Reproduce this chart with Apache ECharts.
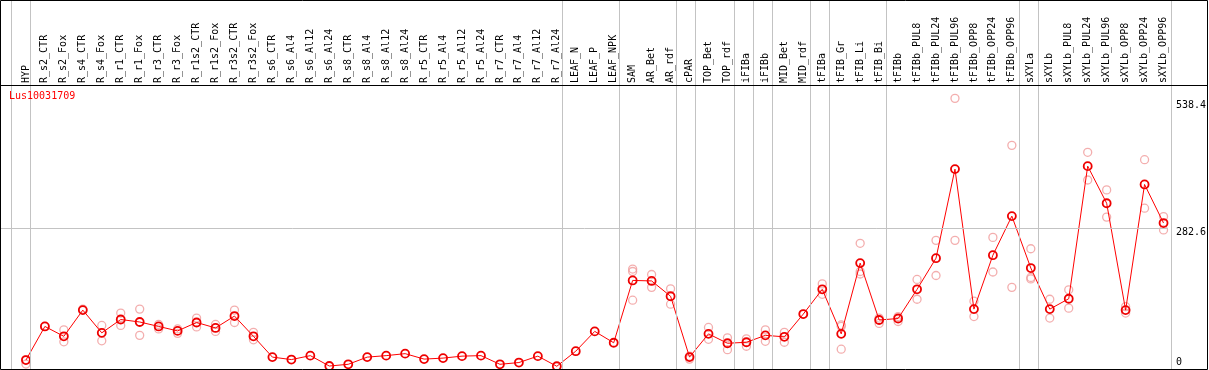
<!DOCTYPE html>
<html>
<head>
<meta charset="utf-8">
<script src="https://cdn.jsdelivr.net/npm/echarts@6/dist/echarts.min.js"></script>
<style>
  html, body { margin: 0; padding: 0; background: #fff; }
  #chart { width: 1209px; height: 370px; }
</style>
</head>
<body>
<div id="chart"></div>
<script>
const chartTitle = 'Lus10031709';
const categories = [
  'HYP','R_s2_CTR','R_s2_Fox','R_s4_CTR','R_s4_Fox','R_r1_CTR','R_r1_Fox','R_r3_CTR','R_r3_Fox',
  'R_r1s2_CTR','R_r1s2_Fox','R_r3s2_CTR','R_r3s2_Fox','R_s6_CTR','R_s6_Al4','R_s6_Al12','R_s6_Al24',
  'R_s8_CTR','R_s8_Al4','R_s8_Al12','R_s8_Al24','R_r5_CTR','R_r5_Al4','R_r5_Al12','R_r5_Al24',
  'R_r7_CTR','R_r7_Al4','R_r7_Al12','R_r7_Al24','LEAF_N','LEAF_P','LEAF_NPK','SAM','AR_Bet','AR_rdf',
  'cPAR','TOP_Bet','TOP_rdf','iFIBa','iFIBb','MID_Bet','MID_rdf','tFIBa','tFIB_Gr','tFIB_Li','tFIB_Bi',
  'tFIBb','tFIBb_PUL8','tFIBb_PUL24','tFIBb_PUL96','tFIBb_OPP8','tFIBb_OPP24','tFIBb_OPP96',
  'sXYLa','sXYLb','sXYLb_PUL8','sXYLb_PUL24','sXYLb_PUL96','sXYLb_OPP8','sXYLb_OPP24','sXYLb_OPP96'
];
const meanValues = [
  16,84,64,117,71,98,93,84,75,92,81,105,64,
  22,17,25,4,7.5,22,25,29,18,20,24,25,7.5,11,24,3.5,
  34,74,51,
  177,176,145,22,69,50,52,66,63,109,159,69,212,97,100,
  159,222,402,119,228,307,202,119,140,408,333,117,371,293
];
const rep1 = [
  17,84,77,119,86,111,119,88,79,101,88,117,72,
  null,null,null,null,null,null,null,null,null,null,null,null,null,null,null,null,
  null,null,null,
  200,189,160,24,82,61,59,77,72,109,170,87,252,101,104,
  179,258,545,135,264,450,241,139,158,436,360,124,421,306
];
const rep2 = [
  8,null,53,null,55,86,66,79,70,83,74,92,57,
  null,null,null,null,null,null,null,null,null,null,null,null,null,null,null,null,
  null,null,null,
  195,163,129,18,58,37,44,54,52,null,149,84,195,90,94,
  139,187,258,104,194,163,183,101,121,380,305,111,323,279
];
const rep3 = [
  null,null,null,null,null,null,null,null,null,null,null,null,null,
  null,null,null,null,null,null,null,null,null,null,null,null,null,null,null,null,
  null,null,null,
  137,null,null,null,null,null,null,null,null,null,null,38,190,null,null,
  null,null,null,null,null,null,180,null,null,null,null,null,null,null
];
// index of the last category of each group (separators drawn just after it)
const groupEnds = [-1,0,28,31,34,35,37,38,39,41,42,45,52,53,60];
const yTickValues = [0, 282.6, 538.4];
const yGridValues = [282.6];

const X_MIN = -1.315, X_MAX = 60.23, SEP_OFFSET = 0.23, Y_MAX = 572;
const MONO = 'DejaVu Sans Mono';

const meanData = meanValues.map((v, i) => [i, v]);
const repData = [];
[rep1, rep2, rep3].forEach(arr => arr.forEach((v, i) => { if (v != null) repData.push([i, v]); }));

const chart = echarts.init(document.getElementById('chart'), null, { renderer: 'canvas' });
chart.setOption({
  animation: false,
  backgroundColor: '#fff',
  title: {
    text: chartTitle, left: 9, top: 91, padding: 0,
    textStyle: { color: '#ff0000', fontFamily: MONO, fontSize: 10, fontWeight: 'normal' }
  },
  grid: [
    { left: 1, right: 38, top: 85, bottom: 2 },
    { left: 1, right: 38, top: 0, bottom: 1 }
  ],
  xAxis: [
    {
      type: 'value', gridIndex: 0, min: X_MIN, max: X_MAX, position: 'top',
      axisLine: { show: false }, axisTick: { show: false }, splitLine: { show: false },
      axisLabel: {
        customValues: categories.map((c, i) => i),
        formatter: v => categories[Math.round(v)] || '',
        rotate: 90, margin: 2, color: '#000', fontFamily: MONO, fontSize: 10,
        showMinLabel: true, showMaxLabel: true, hideOverlap: false
      }
    },
    { type: 'value', gridIndex: 1, min: X_MIN, max: X_MAX, show: false }
  ],
  yAxis: [
    {
      type: 'value', gridIndex: 0, min: 0, max: Y_MAX, position: 'right',
      axisLine: { show: false }, axisTick: { show: false }, splitLine: { show: false },
      axisLabel: {
        customValues: yTickValues, margin: 8, color: '#000', fontFamily: MONO, fontSize: 10,
        formatter: v => v === 0 ? '{b|0}' : '{t|' + v + '}',
        rich: {
          t: { fontFamily: MONO, fontSize: 10, color: '#000', padding: [8, 0, 0, 0] },
          b: { fontFamily: MONO, fontSize: 10, color: '#000', padding: [0, 0, 12, 0] }
        }
      }
    },
    { type: 'value', gridIndex: 1, min: 0, max: 1, show: false }
  ],
  series: [
    {
      name: 'separators', type: 'line', xAxisIndex: 1, yAxisIndex: 1, data: [[0, 0]],
      showSymbol: false, lineStyle: { opacity: 0 }, silent: true, z: 1,
      markLine: {
        silent: true, symbol: 'none', label: { show: false }, animation: false,
        lineStyle: { color: '#c3c3c3', width: 1, type: 'solid' },
        data: groupEnds.map(k => ({ xAxis: k + SEP_OFFSET }))
      }
    },
    {
      name: 'hgrid', type: 'line', xAxisIndex: 0, yAxisIndex: 0, data: [[0, 0]],
      showSymbol: false, lineStyle: { opacity: 0 }, silent: true, z: 1,
      markLine: {
        silent: true, symbol: 'none', label: { show: false }, animation: false,
        lineStyle: { color: '#c3c3c3', width: 1, type: 'solid' },
        data: yGridValues.map(v => ({ yAxis: v }))
      }
    },
    {
      name: 'replicates', type: 'scatter', xAxisIndex: 0, yAxisIndex: 0, data: repData,
      symbol: 'circle', symbolSize: 8, clip: false, z: 2,
      itemStyle: { color: 'rgba(0,0,0,0)', borderColor: '#f09a9a', borderWidth: 1.3 }
    },
    {
      name: 'mean', type: 'line', xAxisIndex: 0, yAxisIndex: 0, data: meanData,
      symbol: 'circle', symbolSize: 8, showAllSymbol: true, z: 3,
      lineStyle: { color: '#ff0000', width: 1 },
      itemStyle: { color: 'rgba(0,0,0,0)', borderColor: '#ee0000', borderWidth: 1.8 }
    }
  ],
  graphic: [
    { type: 'rect', silent: true, z: 100, shape: { x: 0.5, y: 0.5, width: 1207, height: 369 },
      style: { fill: null, stroke: '#000', lineWidth: 1 } },
    { type: 'line', silent: true, z: 100, shape: { x1: 0, y1: 85.5, x2: 1208, y2: 85.5 },
      style: { stroke: '#000', lineWidth: 1 } }
  ]
});
</script>
</body>
</html>
